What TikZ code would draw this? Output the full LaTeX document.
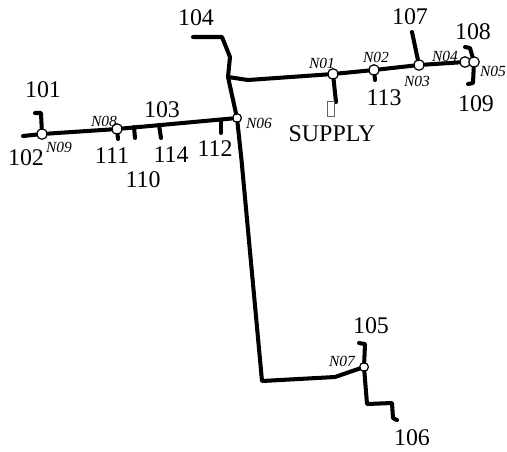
\documentclass[tikz,border=0pt]{standalone}
\usepackage{fontspec}
\setmainfont{Liberation Serif}
\tikzstyle{bus} = [circle, draw=black, fill=white, line width=0.7pt, minimum size=6pt, inner sep=0pt]
\tikzstyle{smallbus} = [circle, draw=black, fill=white, line width=0.7pt, minimum size=5pt, inner sep=0pt]
\tikzstyle{feeder} = [line width=2.3pt, line join=round, line cap=round]
\tikzstyle{load} = [font=\fontsize{13.6}{15}\selectfont, inner sep=0pt]
\tikzstyle{tag} = [font=\fontsize{8.8}{10}\selectfont\itshape, inner sep=0pt]

\begin{document}
\begin{tikzpicture}[x=0.02cm, y=-0.02cm]
\useasboundingbox (0,0) rectangle (507,451);
%buses
\node[bus] (N01) at (333,74) {};
\node[bus] (N02) at (374,70) {};
\node[bus] (N03) at (419,65) {};
\node[bus] (N04) at (465,62) {};
\node[bus] (N05) at (474,62) {};
\node[smallbus] (N06) at (237,118) {};
\node[smallbus] (N07) at (364,367) {};
\node[bus] (N08) at (117,129) {};
\node[bus] (N09) at (42,134) {};
%begin main feeder
\coordinate (j1) at (228,77);
\coordinate (j2) at (248,80);
\coordinate (c0) at (241.5,160);
\coordinate (c1) at (262,381);
\coordinate (c2) at (335,377);
\draw[feeder] (N01) -- (j2) -- (j1) -- (N06);
\draw[feeder] (N01) -- (N02);
\draw[feeder] (N02) -- (N03);
\draw[feeder] (N03) -- (N04);
\draw[feeder] (N06) -- (N08);
\draw[feeder] (N08) -- (N09);
\draw[feeder] (N06) -- (c0) -- (c1) -- (c2) -- (N07);
%end main feeder
%begin level 104
\coordinate (e104a) at (193,37);
\coordinate (e104b) at (222,37);
\coordinate (e104c) at (230,57);
\draw[feeder] (j1) -- (e104c) -- (e104b) -- (e104a);
%end level 104
%begin supply
\coordinate (eSup) at (336,102);
\draw[feeder] (N01) -- (eSup);
\node[draw=black!60, line width=0.3pt, minimum width=4pt, minimum height=8.5pt, inner sep=0pt] (supplybox) at (330.5,108.5) {};
%end supply
%begin stubs right
\coordinate (e113) at (375,80);
\coordinate (e107) at (412,32);
\coordinate (e108a) at (470,48);
\coordinate (e108b) at (465,47);
\coordinate (e109a) at (473,83);
\coordinate (e109b) at (468,84);
\draw[feeder] (N02) -- (e113);
\draw[feeder] (N03) -- (e107);
\draw[feeder] (N05) -- (e108a) -- (e108b);
\draw[feeder] (N05) -- (e109a) -- (e109b);
%end stubs right
%begin stubs left
\coordinate (e101a) at (41,113);
\coordinate (e101b) at (35,113);
\coordinate (e102) at (23,136);
\coordinate (e111) at (118,139);
\coordinate (t110) at (134,127);
\coordinate (e110) at (135,138);
\coordinate (t114) at (159,125);
\coordinate (e114) at (161,138);
\coordinate (t112) at (221,120);
\coordinate (e112) at (221,133);
\draw[feeder] (N09) -- (e101a) -- (e101b);
\draw[feeder] (N09) -- (e102);
\draw[feeder] (N08) -- (e111);
\draw[feeder] (t110) -- (e110);
\draw[feeder] (t114) -- (e114);
\draw[feeder] (t112) -- (e112);
%end stubs left
%begin stubs bottom
\coordinate (e105a) at (365,344);
\coordinate (e105b) at (359,343);
\coordinate (c3) at (367,404);
\coordinate (c4) at (392,403);
\coordinate (c5) at (393,418);
\coordinate (e106) at (397,420);
\draw[feeder] (N07) -- (e105a) -- (e105b);
\draw[feeder] (N07) -- (c3) -- (c4) -- (c5) -- (e106);
%end stubs bottom
%load labels
\node[load] (l101) at (43,90) {101};
\node[load] (l102) at (26,158) {102};
\node[load] (l103) at (162,110) {103};
\node[load] (l104) at (196,18) {104};
\node[load] (l105) at (371,326) {105};
\node[load] (l106) at (412,438) {106};
\node[load] (l107) at (410,17) {107};
\node[load] (l108) at (473,32) {108};
\node[load] (l109) at (476,104) {109};
\node[load] (l110) at (143,180) {110};
\node[load] (l111) at (112,156) {111};
\node[load] (l112) at (215,149) {112};
\node[load] (l113) at (384,98) {113};
\node[load] (l114) at (171,155) {114};
\node[load] (lSupply) at (332,134) {SUPPLY};
%bus labels
\node[tag] (tN01) at (322,63) {N01};
\node[tag] (tN02) at (376,57) {N02};
\node[tag] (tN03) at (417,81) {N03};
\node[tag] (tN04) at (445,56) {N04};
\node[tag] (tN05) at (493,71) {N05};
\node[tag] (tN06) at (259,123) {N06};
\node[tag] (tN07) at (342,361) {N07};
\node[tag] (tN08) at (104,121) {N08};
\node[tag] (tN09) at (59,147) {N09};
\end{tikzpicture}
\end{document}
